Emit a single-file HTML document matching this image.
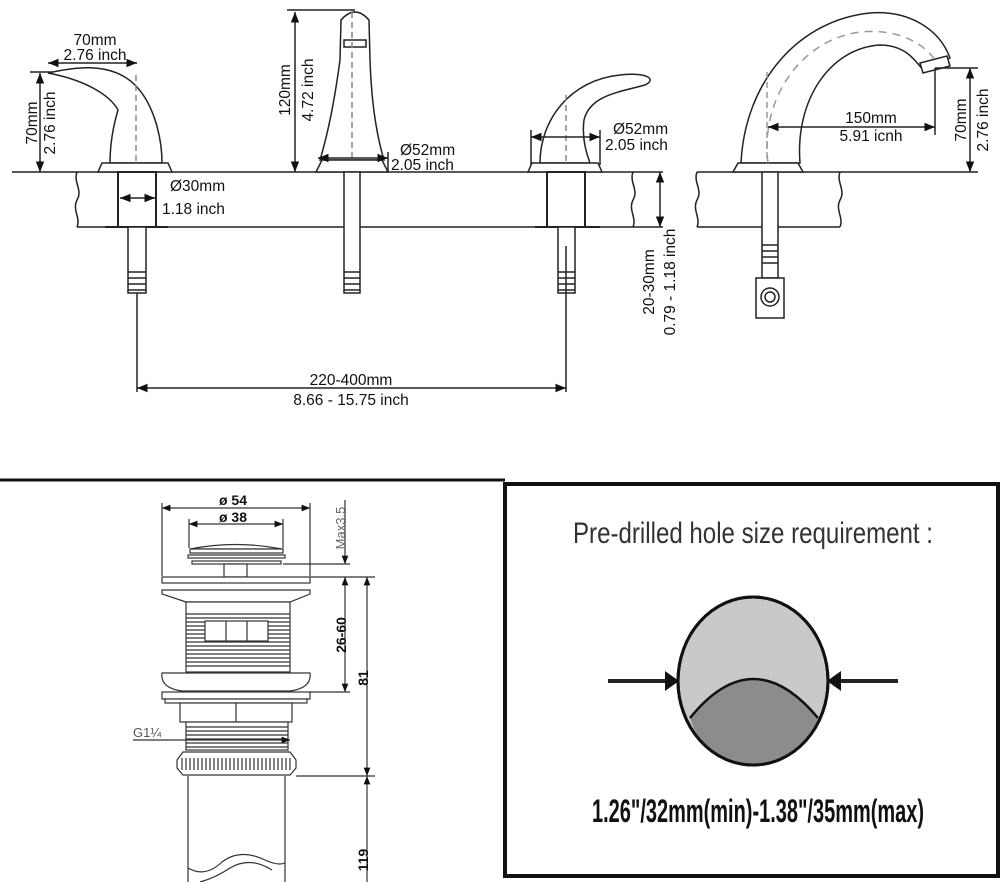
<!DOCTYPE html>
<html><head><meta charset="utf-8"><style>
html,body{margin:0;padding:0;background:#fff;}
svg{display:block;}
text{font-family:"Liberation Sans",sans-serif;fill:#111;}
</style></head><body>
<svg width="1000" height="882" viewBox="0 0 1000 882" xmlns="http://www.w3.org/2000/svg">
<defs>
<marker id="a" viewBox="0 0 10 10" refX="10" refY="5" markerWidth="7" markerHeight="7" orient="auto-start-reverse"><path d="M0,1 L10,5 L0,9 z" fill="#111"/></marker>
</defs>
<g stroke="#222" stroke-width="1.5" fill="none">
<line x1="12" y1="172" x2="663" y2="172"/>
<line x1="77" y1="227" x2="663" y2="227"/>
<path d="M77,172 c-4,10 6,18 0,28 c-5,10 4,18 0,27"/>
<path d="M633,172 c-4,10 6,18 0,28 c-5,10 4,18 0,27"/>
<line x1="697" y1="172" x2="978" y2="172"/>
<line x1="697" y1="227" x2="840" y2="227"/>
<path d="M697,172 c-4,10 6,18 0,28 c-5,10 4,18 0,27"/>
<path d="M840,172 c-4,10 6,18 0,28 c-5,10 4,18 0,27"/>

<path d="M48,73 C70,68 110,60 135,85 C155,105 162,140 162,163 L110,163 C110,140 115,120 118,110 C110,95 85,80 48,73 Z" fill="#fff"/>
<path d="M102,163 L168,163 L172,172 L98,172 Z" fill="#fff"/>
<rect x="118" y="172" width="38" height="55" fill="#fff" stroke-width="2"/>
<line x1="105" y1="227" x2="168" y2="227" stroke-width="2"/>
<rect x="128" y="227" width="18" height="66" fill="#fff"/>
<path d="M128,272h18M128,278h18M128,284h18M128,290h18"/>
<line x1="136" y1="75" x2="136" y2="165" stroke-dasharray="6,4" stroke="#888"/>
<line x1="137" y1="293" x2="137" y2="392"/>

<path d="M341,20 Q355,4 369,20 L370,60 Q372,120 384,160 L320,160 Q332,120 340,60 Z" fill="#fff"/>
<rect x="344" y="40" width="22" height="7"/>
<path d="M322,160 L382,160 L388,172 L316,172 Z" fill="#fff"/>
<rect x="344" y="172" width="16" height="121" fill="#fff"/>
<path d="M344,272h16M344,278h16M344,284h16M344,290h16"/>
<line x1="352" y1="12" x2="352" y2="160" stroke-dasharray="6,4" stroke="#888"/>

<path d="M540,163 C540,120 570,80 620,75 C650,72 656,80 645,85 C620,92 590,95 584,120 C582,135 585,150 590,163 Z" fill="#fff"/>
<path d="M532,163 L598,163 L602,172 L528,172 Z" fill="#fff"/>
<rect x="547" y="172" width="38" height="55" fill="#fff" stroke-width="2"/>
<line x1="535" y1="227" x2="600" y2="227" stroke-width="2"/>
<rect x="558" y="227" width="17" height="66" fill="#fff"/>
<path d="M558,272h17M558,278h17M558,284h17M558,290h17"/>
<line x1="566" y1="95" x2="566" y2="165" stroke-dasharray="6,4" stroke="#888"/>
<line x1="566" y1="246" x2="566" y2="392"/>

<path d="M741,163 C745,80 800,20 870,13 C910,10 940,30 950,58 L923,70 C915,60 905,45 880,45 C830,48 795,100 800,163 Z" fill="#fff"/>
<path d="M920,63 L947,56 L950,66 L923,73 Z" fill="#fff"/>
<path d="M738,163 L798,163 L803,172 L733,172 Z" fill="#fff"/>
<rect x="762" y="172" width="16" height="106" fill="#fff"/>
<path d="M762,245h16M762,251h16M762,257h16M762,263h16"/>
<rect x="756" y="278" width="28" height="40" fill="#fff"/>
<circle cx="770" cy="297" r="9"/><circle cx="770" cy="297" r="5"/>
<path d="M768,163 C760,100 800,40 860,32 C900,28 925,45 935,60" stroke-dasharray="8,6" stroke="#999"/>
<line x1="767" y1="72" x2="767" y2="160" stroke-dasharray="6,4" stroke="#999"/>

<line x1="48" y1="63" x2="137" y2="63" marker-start="url(#a)" marker-end="url(#a)"/>
<line x1="40" y1="73" x2="40" y2="172" marker-start="url(#a)" marker-end="url(#a)"/>
<line x1="30" y1="72" x2="52" y2="72"/>
<line x1="120" y1="198" x2="155" y2="198" marker-start="url(#a)" marker-end="url(#a)"/>
<line x1="287" y1="10" x2="355" y2="10"/>
<line x1="295" y1="12" x2="295" y2="172" marker-start="url(#a)" marker-end="url(#a)"/>
<line x1="318" y1="158" x2="388" y2="158" marker-start="url(#a)" marker-end="url(#a)"/>
<line x1="388" y1="152" x2="388" y2="172"/>
<line x1="531" y1="137" x2="600" y2="137" marker-start="url(#a)" marker-end="url(#a)"/>
<line x1="531" y1="130" x2="531" y2="165"/><line x1="600" y1="130" x2="600" y2="165"/>
<line x1="660" y1="172" x2="660" y2="227" marker-start="url(#a)" marker-end="url(#a)"/>
<line x1="768" y1="127" x2="935" y2="127" marker-start="url(#a)" marker-end="url(#a)"/>
<line x1="935" y1="68" x2="935" y2="135"/>
<line x1="935" y1="68" x2="978" y2="68"/>
<line x1="970" y1="68" x2="970" y2="172" marker-start="url(#a)" marker-end="url(#a)"/>
<line x1="137" y1="388" x2="566" y2="388" marker-start="url(#a)" marker-end="url(#a)"/>
</g>
<g font-size="15.5">
<text x="95" y="45" text-anchor="middle">70mm</text>
<text x="95" y="60" text-anchor="middle">2.76 inch</text>
<text transform="translate(37,123) rotate(-90)" text-anchor="middle">70mm</text>
<text transform="translate(55,123) rotate(-90)" text-anchor="middle">2.76 inch</text>
<text x="170" y="191">Ø30mm</text>
<text x="162" y="214">1.18 inch</text>
<text transform="translate(290,90) rotate(-90)" text-anchor="middle">120mm</text>
<text transform="translate(313,90) rotate(-90)" text-anchor="middle">4.72 inch</text>
<text x="400" y="155">Ø52mm</text>
<text x="391" y="170">2.05 inch</text>
<text x="613" y="134">Ø52mm</text>
<text x="605" y="150">2.05 inch</text>
<text transform="translate(654,282) rotate(-90)" text-anchor="middle">20-30mm</text>
<text transform="translate(675,282) rotate(-90)" text-anchor="middle">0.79 - 1.18 inch</text>
<text x="871" y="123" text-anchor="middle">150mm</text>
<text x="871" y="141" text-anchor="middle">5.91 icnh</text>
<text transform="translate(966,120) rotate(-90)" text-anchor="middle">70mm</text>
<text transform="translate(988,120) rotate(-90)" text-anchor="middle">2.76 inch</text>
<text x="351" y="385" text-anchor="middle">220-400mm</text>
<text x="351" y="405" text-anchor="middle">8.66 - 15.75 inch</text>
</g>

<line x1="0" y1="480" x2="505" y2="480" stroke="#111" stroke-width="3"/>
<rect x="505" y="484" width="493" height="392" fill="none" stroke="#111" stroke-width="4"/>

<g stroke="#333" stroke-width="1.2" fill="#fff">
<line x1="162" y1="508" x2="310" y2="508" marker-start="url(#a)" marker-end="url(#a)"/>
<line x1="189" y1="524" x2="283" y2="524" marker-start="url(#a)" marker-end="url(#a)"/>
<line x1="162" y1="503" x2="162" y2="576" fill="none"/><line x1="310" y1="503" x2="310" y2="576" fill="none"/>
<line x1="189" y1="519" x2="189" y2="548" fill="none"/><line x1="283" y1="519" x2="283" y2="548" fill="none"/>
<path d="M190,549 Q236,540 282,549 Z"/>
<rect x="190" y="549" width="93" height="4"/>
<rect x="188" y="555" width="97" height="3"/>
<rect x="192" y="561" width="89" height="3"/>
<rect x="224" y="564" width="23" height="13"/>
<rect x="162" y="577" width="148" height="6"/>
<path d="M162,590 L310,590 L310,594 L290,602 L186,602 L162,594 Z"/>
<rect x="186" y="602" width="104" height="70"/>
<path d="M186,614h104M186,618h104M186,622h104M186,626h104M186,630h104M186,634h104M186,638h104M186,642h104M186,646h104M186,650h104M186,654h104M186,658h104M186,662h104M186,666h104" fill="none"/>
<rect x="205" y="621" width="63" height="20"/>
<line x1="226" y1="621" x2="226" y2="641"/><line x1="247" y1="621" x2="247" y2="641"/>
<path d="M162,673 L310,673 Q312,688 290,691 L182,691 Q160,688 162,673 Z"/>
<rect x="162" y="692" width="148" height="7"/>
<rect x="165" y="699" width="142" height="4"/>
<rect x="180" y="703" width="112" height="19"/>
<line x1="236" y1="703" x2="236" y2="722"/>
<rect x="186" y="722" width="102" height="28"/>
<path d="M186,727h102M186,731h102M186,735h102M186,739h102M186,743h102M186,747h102" fill="none"/>
<path d="M183,752 L290,752 L296,760 L296,768 L290,775 L183,775 L177,768 L177,760 Z"/>
<path d="M182,758v12M186,758v12M190,758v12M194,758v12M198,758v12M202,758v12M206,758v12M210,758v12M214,758v12M218,758v12M222,758v12M226,758v12M230,758v12M234,758v12M238,758v12M242,758v12M246,758v12M250,758v12M254,758v12M258,758v12M262,758v12M266,758v12M270,758v12M274,758v12M278,758v12M282,758v12M286,758v12M290,758v12" fill="none"/>
<path d="M188,776 L188,882 M285,776 L285,882" fill="none"/>
<path d="M188,868 Q205,878 222,862 Q240,848 265,860 Q278,866 285,863" fill="none"/>
<path d="M200,882 Q215,878 230,868 Q250,856 272,870" fill="none"/>
<line x1="283" y1="564" x2="350" y2="564"/>
<line x1="345" y1="500" x2="345" y2="564" marker-end="url(#a)"/>
<line x1="310" y1="577" x2="375" y2="577"/>
<line x1="310" y1="692" x2="350" y2="692"/>
<line x1="296" y1="776" x2="375" y2="776"/>
<line x1="345" y1="577" x2="345" y2="692" marker-start="url(#a)" marker-end="url(#a)"/>
<line x1="367" y1="577" x2="367" y2="776" marker-start="url(#a)" marker-end="url(#a)"/>
<line x1="367" y1="776" x2="367" y2="882" marker-start="url(#a)"/>
<line x1="133" y1="740" x2="290" y2="740" marker-end="url(#a)"/>
</g>
<g font-size="14" font-weight="bold">
<text x="233" y="505" text-anchor="middle">ø 54</text>
<text x="233" y="522" text-anchor="middle">ø 38</text>
<text transform="translate(346,635) rotate(-90)" text-anchor="middle">26-60</text>
<text transform="translate(368,678) rotate(-90)" text-anchor="middle">81</text>
<text transform="translate(368,860) rotate(-90)" text-anchor="middle">119</text>
</g>
<text transform="translate(345,528) rotate(-90)" text-anchor="middle" font-size="13" style="fill:#666">Max3.5</text>
<text x="133" y="737" font-size="13" style="fill:#555">G1¼</text>

<text x="753" y="543" text-anchor="middle" font-size="30" textLength="360" lengthAdjust="spacingAndGlyphs" style="fill:#333">Pre-drilled hole size requirement :</text>
<ellipse cx="753" cy="681" rx="75" ry="84" fill="#c9c9c9" stroke="#111" stroke-width="3"/>
<path d="M690,718 Q753,640 818,718 Q800,765 753,765 Q705,765 690,718 Z" fill="#8c8c8c"/>
<path d="M690,718 Q753,640 818,718" fill="none" stroke="#111" stroke-width="2.5"/>
<ellipse cx="753" cy="681" rx="75" ry="84" fill="none" stroke="#111" stroke-width="3"/>
<line x1="608" y1="681" x2="668" y2="681" stroke="#222" stroke-width="4"/>
<path d="M665,671 L679,681 L665,691 Z" fill="#111"/>
<line x1="838" y1="681" x2="898" y2="681" stroke="#222" stroke-width="4"/>
<path d="M841,671 L827,681 L841,691 Z" fill="#111"/>
<text x="758" y="822" text-anchor="middle" font-size="32" font-weight="bold" textLength="332" lengthAdjust="spacingAndGlyphs">1.26"/32mm(min)-1.38"/35mm(max)</text>
</svg>
</body></html>
